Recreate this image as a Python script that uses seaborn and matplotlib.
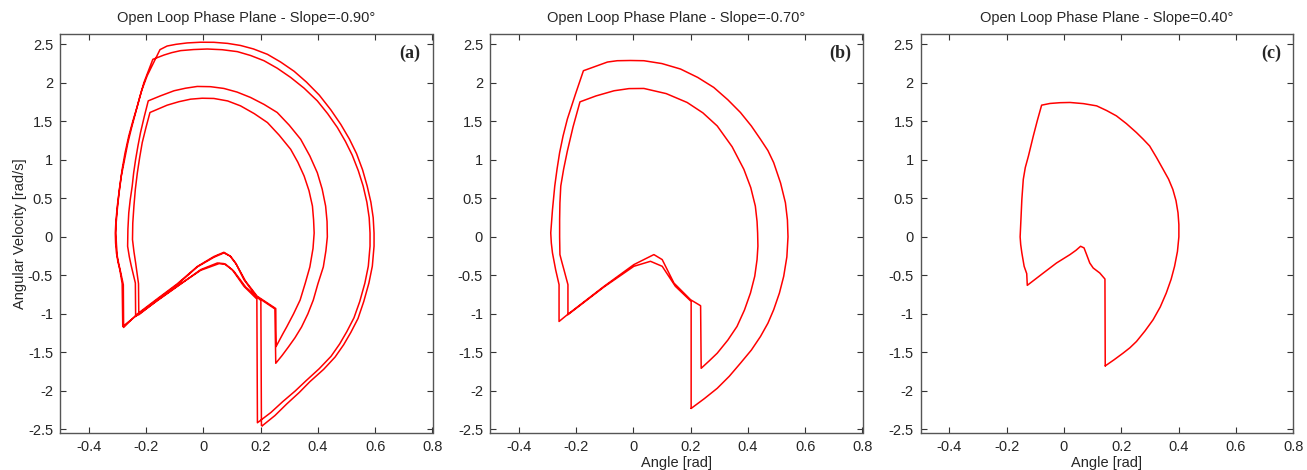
import matplotlib
matplotlib.use("Agg")
import matplotlib.pyplot as plt
from matplotlib.ticker import FuncFormatter
import numpy as np
import seaborn as sns

# phase-plane trajectories as (angle [rad], angular velocity [rad/s])
# panel (a): four strides per cycle
stride_a1 = [
  (0.206, -2.452), (0.250, -2.320), (0.291, -2.170), (0.335, -2.020), (0.372, -1.880), (0.420, -1.720),
  (0.460, -1.560), (0.490, -1.400), (0.515, -1.240), (0.540, -1.060), (0.560, -0.840), (0.578, -0.600),
  (0.590, -0.380), (0.596, -0.120), (0.596, 0.050), (0.593, 0.250), (0.585, 0.450), (0.572, 0.660),
  (0.556, 0.870), (0.535, 1.080), (0.510, 1.270), (0.480, 1.460), (0.445, 1.650), (0.405, 1.840),
  (0.360, 2.010), (0.317, 2.150), (0.270, 2.270), (0.224, 2.370), (0.175, 2.440), (0.130, 2.485),
  (0.085, 2.512), (0.037, 2.526), (-0.010, 2.527), (-0.056, 2.518), (-0.095, 2.500), (-0.126, 2.478),
  (-0.151, 2.431), (-0.175, 2.250), (-0.196, 2.090), (-0.215, 1.900), (-0.230, 1.700), (-0.246, 1.500),
  (-0.260, 1.310), (-0.273, 1.090), (-0.283, 0.880), (-0.292, 0.640), (-0.300, 0.400), (-0.305, 0.200),
  (-0.307, 0.050), (-0.306, -0.080), (-0.303, -0.210), (-0.298, -0.320), (-0.291, -0.430), (-0.283, -0.608),
  (-0.281, -1.163), (-0.230, -1.011), (-0.161, -0.816), (-0.091, -0.621), (-0.021, -0.390), (0.037, -0.265),
  (0.072, -0.208), (0.095, -0.252), (0.113, -0.339), (0.142, -0.556), (0.186, -0.775), (0.250, -0.935),
  (0.253, -1.641),
]
stride_a2 = [
  (0.253, -1.641), (0.275, -1.540), (0.297, -1.430), (0.320, -1.310), (0.343, -1.170), (0.365, -1.000),
  (0.384, -0.820), (0.400, -0.610), (0.419, -0.390), (0.428, -0.180), (0.433, 0.000), (0.432, 0.200),
  (0.427, 0.400), (0.415, 0.620), (0.398, 0.833), (0.372, 1.050), (0.340, 1.267), (0.300, 1.450),
  (0.258, 1.615), (0.212, 1.720), (0.165, 1.810), (0.118, 1.880), (0.072, 1.927), (0.025, 1.950),
  (-0.021, 1.953), (-0.062, 1.930), (-0.102, 1.897), (-0.150, 1.830), (-0.192, 1.766), (-0.206, 1.560),
  (-0.219, 1.354), (-0.228, 1.180), (-0.236, 1.007), (-0.243, 0.830), (-0.248, 0.660), (-0.255, 0.480),
  (-0.260, 0.312), (-0.263, 0.100), (-0.264, -0.122), (-0.258, -0.260), (-0.251, -0.382), (-0.237, -0.599),
  (-0.236, -1.033), (-0.161, -0.830), (-0.091, -0.645), (-0.009, -0.425), (0.049, -0.339), (0.072, -0.347),
  (0.101, -0.425), (0.142, -0.642), (0.187, -0.807), (0.189, -2.413),
]
stride_a3 = [
  (0.189, -2.413), (0.236, -2.280), (0.277, -2.140), (0.321, -2.000), (0.358, -1.870), (0.405, -1.710),
  (0.446, -1.550), (0.476, -1.390), (0.501, -1.230), (0.526, -1.050), (0.546, -0.840), (0.564, -0.600),
  (0.576, -0.380), (0.582, -0.120), (0.582, 0.050), (0.579, 0.250), (0.571, 0.450), (0.558, 0.660),
  (0.541, 0.860), (0.520, 1.060), (0.496, 1.240), (0.468, 1.420), (0.434, 1.600), (0.398, 1.766),
  (0.352, 1.930), (0.305, 2.070), (0.258, 2.190), (0.212, 2.287), (0.165, 2.355), (0.119, 2.405),
  (0.066, 2.430), (0.014, 2.439), (-0.034, 2.432), (-0.079, 2.418), (-0.110, 2.392), (-0.137, 2.361),
  (-0.176, 2.305), (-0.192, 2.150), (-0.207, 2.005), (-0.222, 1.810), (-0.236, 1.615), (-0.250, 1.420),
  (-0.263, 1.224), (-0.275, 1.000), (-0.286, 0.790), (-0.294, 0.570), (-0.300, 0.356), (-0.304, 0.180),
  (-0.305, 0.052), (-0.303, -0.100), (-0.300, -0.252), (-0.295, -0.350), (-0.289, -0.447), (-0.279, -0.621),
  (-0.278, -1.176), (-0.230, -1.000), (-0.161, -0.805), (-0.091, -0.610), (-0.021, -0.385), (0.037, -0.255),
  (0.072, -0.200), (0.094, -0.250), (0.116, -0.360), (0.148, -0.577), (0.188, -0.770), (0.253, -0.930),
  (0.254, -1.424),
]
stride_a4 = [
  (0.254, -1.424), (0.266, -1.340), (0.279, -1.250), (0.291, -1.170), (0.315, -1.000), (0.338, -0.820),
  (0.356, -0.600), (0.372, -0.390), (0.383, -0.150), (0.387, 0.050), (0.385, 0.220), (0.381, 0.400),
  (0.369, 0.600), (0.352, 0.790), (0.330, 0.970), (0.305, 1.137), (0.265, 1.320), (0.224, 1.484),
  (0.178, 1.600), (0.130, 1.701), (0.085, 1.765), (0.037, 1.797), (-0.004, 1.800), (-0.044, 1.788),
  (-0.085, 1.755), (-0.126, 1.710), (-0.186, 1.615), (-0.200, 1.420), (-0.213, 1.224), (-0.222, 1.030),
  (-0.230, 0.833), (-0.237, 0.620), (-0.242, 0.400), (-0.246, 0.180), (-0.247, -0.035), (-0.242, -0.190),
  (-0.236, -0.339), (-0.226, -0.608), (-0.225, -1.011), (-0.161, -0.825), (-0.091, -0.640), (-0.009, -0.434),
  (0.055, -0.347), (0.078, -0.355), (0.107, -0.447), (0.148, -0.651), (0.201, -0.825), (0.203, -2.448),
  (0.206, -2.452),
]

# panel (b): two strides per cycle
stride_b1 = [
  (0.202, -2.227), (0.248, -2.100), (0.293, -1.966), (0.335, -1.810), (0.374, -1.640), (0.412, -1.470),
  (0.444, -1.293), (0.470, -1.120), (0.490, -0.946), (0.510, -0.730), (0.525, -0.512), (0.536, -0.260),
  (0.540, 0.000), (0.538, 0.220), (0.531, 0.443), (0.514, 0.700), (0.490, 0.964), (0.470, 1.120),
  (0.444, 1.267), (0.412, 1.440), (0.374, 1.615), (0.330, 1.780), (0.281, 1.940), (0.225, 2.070),
  (0.165, 2.179), (0.100, 2.250), (0.037, 2.287), (-0.010, 2.290), (-0.056, 2.287), (-0.090, 2.270),
  (-0.174, 2.157), (-0.202, 1.850), (-0.230, 1.530), (-0.245, 1.310), (-0.257, 1.094), (-0.266, 0.880),
  (-0.274, 0.660), (-0.282, 0.350), (-0.288, 0.052), (-0.286, -0.080), (-0.282, -0.208), (-0.271, -0.425),
  (-0.259, -0.620), (-0.259, -1.098), (-0.230, -1.010), (-0.102, -0.642), (0.002, -0.360), (0.060, -0.252),
  (0.072, -0.230), (0.101, -0.295), (0.142, -0.600), (0.200, -0.816), (0.235, -0.894), (0.237, -1.706),
]
stride_b2 = [
  (0.237, -1.706), (0.265, -1.610), (0.293, -1.510), (0.330, -1.340), (0.362, -1.163), (0.388, -0.950),
  (0.409, -0.729), (0.424, -0.510), (0.432, -0.295), (0.435, -0.120), (0.434, 0.050), (0.432, 0.200),
  (0.426, 0.400), (0.410, 0.640), (0.386, 0.877), (0.345, 1.170), (0.293, 1.440), (0.243, 1.610),
  (0.188, 1.745), (0.115, 1.860), (0.037, 1.927), (-0.015, 1.925), (-0.067, 1.897), (-0.130, 1.830),
  (-0.186, 1.753), (-0.210, 1.430), (-0.230, 1.115), (-0.243, 0.880), (-0.253, 0.660), (-0.256, 0.440),
  (-0.257, 0.226), (-0.257, 0.000), (-0.256, -0.230), (-0.249, -0.330), (-0.242, -0.425), (-0.228, -0.620),
  (-0.228, -1.010), (-0.102, -0.650), (0.002, -0.382), (0.060, -0.317), (0.101, -0.382), (0.147, -0.642),
  (0.202, -0.838), (0.202, -2.227),
]

# panel (c): single stride
stride_c1 = [
  (0.144, -1.675), (0.175, -1.595), (0.206, -1.510), (0.230, -1.440), (0.253, -1.358), (0.283, -1.220),
  (0.311, -1.076), (0.336, -0.910), (0.357, -0.729), (0.374, -0.550), (0.386, -0.382), (0.396, -0.190),
  (0.401, 0.000), (0.401, 0.160), (0.398, 0.312), (0.391, 0.470), (0.380, 0.616), (0.365, 0.750),
  (0.346, 0.877), (0.323, 1.030), (0.299, 1.180), (0.276, 1.270), (0.253, 1.354), (0.218, 1.470),
  (0.183, 1.571), (0.149, 1.640), (0.114, 1.701), (0.068, 1.730), (0.021, 1.745), (-0.014, 1.742),
  (-0.049, 1.732), (-0.078, 1.710), (-0.093, 1.510), (-0.107, 1.310), (-0.124, 1.050), (-0.135, 0.900),
  (-0.142, 0.746), (-0.147, 0.486), (-0.150, 0.240), (-0.153, 0.000), (-0.151, -0.100), (-0.147, -0.208),
  (-0.139, -0.382), (-0.130, -0.477), (-0.128, -0.629), (-0.072, -0.469), (-0.026, -0.339), (0.021, -0.230),
  (0.042, -0.174), (0.058, -0.122), (0.070, -0.143), (0.079, -0.230), (0.090, -0.339), (0.102, -0.404),
  (0.125, -0.469), (0.143, -0.547), (0.144, -1.675),
]

slopes = ["-0.90", "-0.70", "0.40"]
panel_tags = ["(a)", "(b)", "(c)"]
x_ticks = [-0.4, -0.2, 0, 0.2, 0.4, 0.6, 0.8]
y_ticks = [-2.5, -2, -1.5, -1, -0.5, 0, 0.5, 1, 1.5, 2, 2.5]

sns.set_style("ticks")
plt.rcParams["font.family"] = ["Liberation Sans", "DejaVu Sans"]

W, H = 1307, 470
fig = plt.figure(figsize=(W / 100, H / 100), dpi=100)
lefts = [60, 490, 920.7]
ax_w, top, bottom = 372.5, 34.3, 433.3

matlab_fmt = FuncFormatter(lambda v, _: "%g" % round(v, 3))
panels = [
  stride_a1 + stride_a2 + stride_a3 + stride_a4,
  stride_b1 + stride_b2,
  stride_c1,
]

for i, path in enumerate(panels):
  pts = np.array(path)
  ax = fig.add_axes([lefts[i] / W, (H - bottom) / H, ax_w / W, (bottom - top) / H])
  sns.lineplot(x=pts[:, 0], y=pts[:, 1], sort=False, estimator=None, color="#ff0000", lw=1.1, ax=ax)
  ax.set_xlim(-0.5, 0.8)
  ax.set_ylim(-2.55, 2.63)
  ax.set_xticks(x_ticks)
  ax.set_yticks(y_ticks)
  ax.xaxis.set_major_formatter(matlab_fmt)
  ax.yaxis.set_major_formatter(matlab_fmt)
  ax.tick_params(direction="in", length=4, width=0.8, color="#333333", labelsize=10.5,
                 top=True, right=True, pad=5)
  for sp in ax.spines.values():
    sp.set_visible(True)
    sp.set_color("#555555")
    sp.set_linewidth(1.0)
  ax.set_title(f"Open Loop Phase Plane - Slope={slopes[i]}°", fontsize=10.5, pad=9)
  ax.text(0.94, 0.953, panel_tags[i], transform=ax.transAxes, ha="center", va="center",
          fontsize=13, fontweight="bold", family="Liberation Serif")
  if i == 0:
    ax.set_ylabel("Angular Velocity [rad/s]", fontsize=10.5, labelpad=0.5)
  else:
    ax.set_xlabel("Angle [rad]", fontsize=10.5, labelpad=1)

fig.savefig("out.png", dpi=100)
